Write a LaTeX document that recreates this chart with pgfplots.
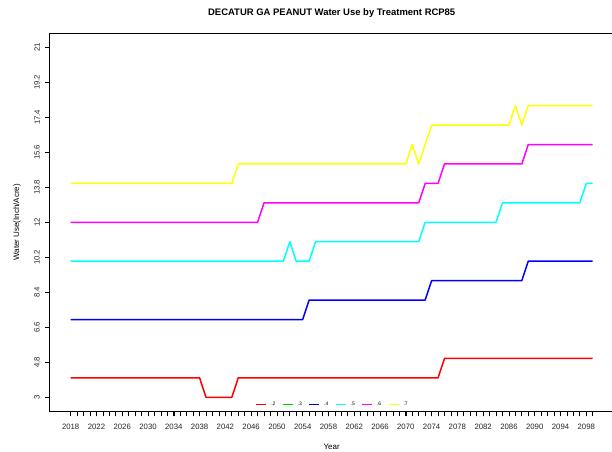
\documentclass[border=0pt]{standalone}
\usepackage{fontspec}
\setmainfont{Liberation Sans}
\usepackage{pgfplots}
\pgfplotsset{compat=1.18}
\definecolor{rred}{RGB}{255,0,0}
\definecolor{rgreen}{RGB}{0,205,0}
\definecolor{rblue}{RGB}{0,0,255}
\definecolor{rcyan}{RGB}{0,255,255}
\definecolor{rmagenta}{RGB}{255,0,255}
\definecolor{ryellow}{RGB}{255,255,0}
\pgfplotsset{
  legend image code/.code={\draw[#1] (0bp,0bp) -- (10bp,0bp);},
}
\begin{document}
\begin{tikzpicture}
\begin{axis}[
  at={(49.8bp,40.7bp)}, anchor=south west,
  scale only axis, width=563.8bp, height=378bp,
  xmin=2014.76, xmax=2102.24, ymin=2.28, ymax=21.72,
  axis line style={black, line width=0.7bp},
  tick align=outside,
  xtick pos=lower, ytick pos=left,
  major tick length=5bp, minor tick length=5bp,
  tick style={black, line width=0.6bp},
  xtick={2018,2022,...,2098},
  minor xtick={2019,...,2099},
  ytick={3,4.8,6.6,8.4,10.2,12,13.8,15.6,17.4,19.2,21},
  yticklabels={3,4.8,6.6,8.4,10.2,12,13.8,15.6,17.4,19.2,21},
  /pgf/number format/assume math mode=true,
  /pgf/number format/1000 sep={},
  ticklabel style={font=\fontsize{7.8}{9}\selectfont, text=black!85},
  xticklabel style={yshift=-4bp},
  yticklabel style={rotate=90, anchor=south, yshift=1.5bp},
  title={DECATUR GA PEANUT Water Use by Treatment RCP85},
  title style={at={(0.5,1)}, anchor=center, yshift=14.4bp, font=\bfseries\fontsize{9.5}{11}\selectfont},
  xlabel={Year},
  xlabel style={at={(axis description cs:0.5,-0.0937)}, anchor=center, font=\fontsize{8}{9}\selectfont},
  ylabel={Water Use(Inch/Acre)},
  ylabel style={at={(axis description cs:-0.0582,0.5)}, anchor=center, rotate=0, font=\fontsize{8}{9}\selectfont},
  legend style={draw=none, fill=none, at={(0.502,0.017)}, anchor=center,
    legend columns=6, font=\fontsize{5}{6}\selectfont,
    /tikz/every even column/.append style={column sep=5bp},
    /tikz/every odd column/.append style={column sep=2.5bp},
    inner sep=1bp},
  every axis plot/.append style={line width=1.5bp, line join=round},
]
\addplot[rred, forget plot] coordinates {(2018,4) (2038,4) (2039,3) (2043,3) (2044,4) (2075,4) (2076,5) (2099,5)};
\addplot[rblue, forget plot] coordinates {(2018,7) (2054,7) (2055,8) (2073,8) (2074,9) (2088,9) (2089,10) (2099,10)};
\addplot[rcyan, forget plot] coordinates {(2018,10) (2051,10) (2052,11) (2053,10) (2055,10) (2056,11) (2072,11) (2073,12) (2084,12) (2085,13) (2097,13) (2098,14) (2099,14)};
\addplot[rmagenta, forget plot] coordinates {(2018,12) (2047,12) (2048,13) (2072,13) (2073,14) (2075,14) (2076,15) (2088,15) (2089,16) (2099,16)};
\addplot[ryellow, forget plot] coordinates {(2018,14) (2043,14) (2044,15) (2070,15) (2071,16) (2072,15) (2073,16) (2074,17) (2086,17) (2087,18) (2088,17) (2089,18) (2099,18)};
\addlegendimage{rred, line width=0.8bp}
\addlegendentry{.2}
\addlegendimage{rgreen, line width=0.8bp}
\addlegendentry{.3}
\addlegendimage{rblue, line width=0.8bp}
\addlegendentry{.4}
\addlegendimage{rcyan, line width=0.8bp}
\addlegendentry{.5}
\addlegendimage{rmagenta, line width=0.8bp}
\addlegendentry{.6}
\addlegendimage{ryellow, line width=0.8bp}
\addlegendentry{.7}
\end{axis}
\pgfresetboundingbox
\path[use as bounding box] (0,0) rectangle (612bp,452bp);
\end{tikzpicture}
\end{document}
